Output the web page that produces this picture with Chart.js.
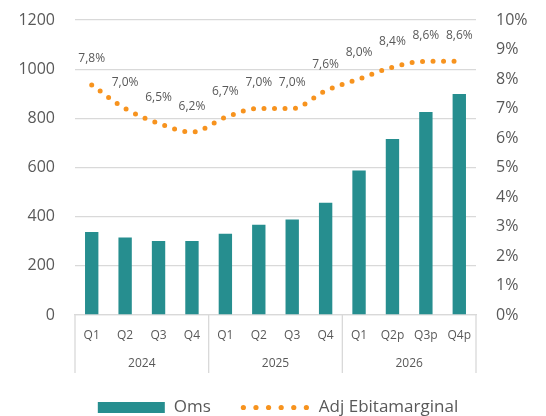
<!DOCTYPE html>
<html>
<head>
<meta charset="utf-8">
<script src="https://cdn.jsdelivr.net/npm/chart.js@4/dist/chart.umd.min.js"></script>
<style>
html, body { margin: 0; padding: 0; background: #fff; }
#wrap { width: 546px; height: 416px; position: relative; }
</style>
</head>
<body>
<div id="wrap"><canvas id="grafica"></canvas></div>
<script>
// Kvartal och år
const kvartal = ['Q1', 'Q2', 'Q3', 'Q4', 'Q1', 'Q2', 'Q3', 'Q4', 'Q1', 'Q2p', 'Q3p', 'Q4p'];
const ar = ['2024', '2025', '2026'];
const kvartalPerAr = 4;

// Serier
const oms = [338, 315, 301, 301, 331, 367, 388, 457, 588, 716, 826, 899];
const ebitaMarginal = [7.8, 7.0, 6.5, 6.2, 6.7, 7.0, 7.0, 7.6, 8.0, 8.4, 8.6, 8.6];

// Axlar
const vansterMax = 1200;
const vansterSteg = 200;
const hogerMax = 10;
const hogerSteg = 1;

const TEAL = '#268E8F';
const ORANGE = '#F7931E';
const TEXT = '#595959';
const GRID = '#D9D9D9';
const FONT = "'Open Sans', sans-serif";

const fmtProcent = v => v.toFixed(1).replace('.', ',') + '%';

// Etiketter ovanför linjen
const etiketter = {
    id: 'etiketter',
    afterDatasetsDraw(chart) {
        const ctx = chart.ctx;
        const meta = chart.getDatasetMeta(1);
        ctx.save();
        ctx.font = '12px ' + FONT;
        ctx.fillStyle = TEXT;
        ctx.textAlign = 'center';
        ctx.textBaseline = 'middle';
        meta.data.forEach((pt, i) => {
            ctx.fillText(fmtProcent(ebitaMarginal[i]), pt.x, pt.y - 26);
        });
        ctx.restore();
    }
};

// År under kvartalen + avdelare
const arGrupper = {
    id: 'arGrupper',
    afterDraw(chart) {
        const ctx = chart.ctx;
        const x = chart.scales.x;
        const bottom = chart.chartArea.bottom;
        const halv = (x.getPixelForValue(1) - x.getPixelForValue(0)) / 2;
        ctx.save();
        ctx.strokeStyle = GRID;
        ctx.lineWidth = 1.3;
        for (let g = 0; g <= ar.length; g++) {
            const idx = Math.min(g * kvartalPerAr, kvartal.length - 1);
            const px = g * kvartalPerAr < kvartal.length
                ? x.getPixelForValue(idx) - halv
                : x.getPixelForValue(idx) + halv;
            ctx.beginPath();
            ctx.moveTo(px, bottom);
            ctx.lineTo(px, bottom + 58);
            ctx.stroke();
        }
        ctx.font = '12px ' + FONT;
        ctx.fillStyle = TEXT;
        ctx.textAlign = 'center';
        ctx.textBaseline = 'middle';
        ar.forEach((a, g) => {
            const x0 = x.getPixelForValue(g * kvartalPerAr);
            const x1 = x.getPixelForValue(g * kvartalPerAr + kvartalPerAr - 1);
            ctx.fillText(a, (x0 + x1) / 2, bottom + 49);
        });
        ctx.restore();
    }
};

// Egen förklaring
const forklaring = {
    id: 'forklaring',
    afterDraw(chart) {
        const ctx = chart.ctx;
        const y = 407.5;
        ctx.save();
        ctx.font = '17px ' + FONT;
        ctx.textBaseline = 'middle';
        const namn = chart.data.datasets.map(d => d.label);
        const w0 = ctx.measureText(namn[0]).width;
        const w1 = ctx.measureText(namn[1]).width;
        const total = 67 + 9 + w0 + 30 + 64 + 14 + w1;
        let cx = 278 - total / 2;
        ctx.fillStyle = TEAL;
        ctx.fillRect(cx, y - 5.5, 67, 11);
        cx += 67 + 9;
        ctx.fillStyle = TEXT;
        ctx.fillText(namn[0], cx, y);
        cx += w0 + 30;
        ctx.fillStyle = ORANGE;
        for (let i = 0; i < 6; i++) {
            ctx.beginPath();
            ctx.arc(cx + 2.5 + i * 12.6, y, 2.6, 0, Math.PI * 2);
            ctx.fill();
        }
        cx += 64 + 14;
        ctx.fillStyle = TEXT;
        ctx.fillText(namn[1], cx, y);
        ctx.restore();
    }
};

const utanKantpadding = (bredd) => s => {
    s.width = bredd;
    s.paddingTop = 0;
    s.paddingBottom = 0;
};

new Chart(document.getElementById('grafica'), {
    type: 'bar',
    data: {
        labels: kvartal,
        datasets: [{
            label: 'Oms',
            data: oms,
            backgroundColor: TEAL,
            yAxisID: 'y',
            order: 1,
            categoryPercentage: 1,
            barPercentage: 0.4
        }, {
            type: 'line',
            label: 'Adj Ebitamarginal',
            data: ebitaMarginal,
            yAxisID: 'y1',
            order: 0,
            borderColor: ORANGE,
            borderWidth: 5,
            borderDash: [0, 10.5],
            borderCapStyle: 'round',
            pointRadius: 0,
            cubicInterpolationMode: 'monotone',
            fill: false
        }]
    },
    options: {
        responsive: true,
        maintainAspectRatio: false,
        animation: false,
        layout: { padding: { top: 20, left: 0, right: 0, bottom: 0 } },
        plugins: {
            legend: { display: false },
            tooltip: { enabled: false }
        },
        scales: {
            x: {
                grid: { display: false, drawTicks: false },
                border: { color: GRID, width: 1.3 },
                ticks: { color: TEXT, font: { family: FONT, size: 12 }, padding: 13, maxRotation: 0, autoSkip: false },
                afterFit: s => { s.height = 101; }
            },
            y: {
                position: 'left',
                min: 0,
                max: vansterMax,
                grid: { color: GRID, lineWidth: 1.3, drawTicks: false },
                border: { display: false },
                ticks: { stepSize: vansterSteg, color: TEXT, font: { family: FONT, size: 16 }, padding: 20, callback: v => String(v) },
                afterFit: utanKantpadding(75)
            },
            y1: {
                position: 'right',
                min: 0,
                max: hogerMax,
                grid: { display: false, drawTicks: false },
                border: { display: false },
                ticks: { stepSize: hogerSteg, color: TEXT, font: { family: FONT, size: 16 }, padding: 20, callback: v => v + '%' },
                afterFit: utanKantpadding(70)
            }
        }
    },
    plugins: [etiketter, arGrupper, forklaring]
});
</script>
</body>
</html>
